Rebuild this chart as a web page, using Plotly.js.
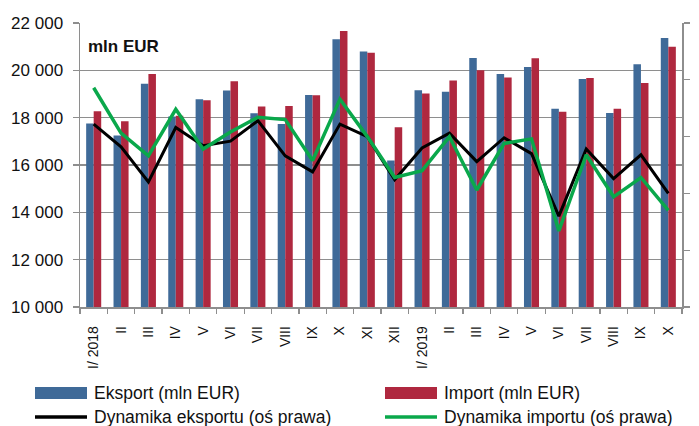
<!DOCTYPE html>
<html>
<head>
<meta charset="utf-8">
<script src="https://cdn.plot.ly/plotly-3.0.1.min.js"></script>
<style>html,body{margin:0;padding:0;background:#fff;}#chart{width:699px;height:426px;}</style>
</head>
<body>
<div id="chart"></div>
<script>
// ---- data ----
var months = ['I/ 2018','II','III','IV','V','VI','VII','VIII','IX','X','XI','XII',
              'I/ 2019','II','III','IV','V','VI','VII','VIII','IX','X'];
var exportVals = [17750,17250,19430,18050,18780,19150,18190,17730,18960,21310,20800,16190,
                  19160,19090,20520,19840,20140,18380,19630,18200,20260,21365];
var importVals = [18270,17845,19840,18080,18740,19540,18470,18495,18950,21660,20740,17590,
                  19020,19570,20000,19700,20510,18255,19680,18380,19460,21000];
// right-axis (unlabelled) dynamics, read on an assumed 90–115 scale
var exportDyn = [106.1,104.1,101.0,105.8,104.2,104.6,106.4,103.3,101.9,106.1,105.0,101.2,
                 104.0,105.3,102.8,104.9,103.5,98.0,103.9,101.3,103.4,100.0];
var importDyn = [109.3,105.3,103.3,107.4,103.9,105.4,106.7,106.5,102.9,108.3,105.0,101.4,
                 102.0,105.0,100.3,104.4,104.8,96.7,103.4,99.7,101.4,98.5];
var seriesNames = ['Eksport (mln EUR)','Import (mln EUR)','Dynamika eksportu (oś prawa)','Dynamika importu (oś prawa)'];
var unitLabel = 'mln EUR';

var idx = months.map(function(_, i){ return i; });
var BLUE = '#3F6A98', RED = '#AF283F', GREEN = '#0AA84B', BLACK = '#000000';
var GRID = '#8E8E8E';
var FONT = 'Liberation Sans, Arial, sans-serif';

var traces = [
  {type:'bar', name:seriesNames[0], x:idx, y:exportVals, marker:{color:BLUE}, showlegend:false, yaxis:'y'},
  {type:'bar', name:seriesNames[1], x:idx, y:importVals, marker:{color:RED}, showlegend:false, yaxis:'y'},
  {type:'scatter', mode:'lines', name:seriesNames[2], x:idx, y:exportDyn, line:{color:BLACK, width:3}, showlegend:false, yaxis:'y2'},
  {type:'scatter', mode:'lines', name:seriesNames[3], x:idx, y:importDyn, line:{color:GREEN, width:3.5}, showlegend:false, yaxis:'y2'}
];

// manual legend (wide swatches like the reference)
var legendPos = [
  {xs:-45, ys:-86, kind:'rect', color:BLUE},
  {xs:305, ys:-86, kind:'rect', color:RED},
  {xs:-45, ys:-110, kind:'line', color:BLACK},
  {xs:305, ys:-110, kind:'line', color:GREEN}
];
var shapes = [], annotations = [];
legendPos.forEach(function(p, i){
  if (p.kind === 'rect') {
    shapes.push({type:'rect', xref:'paper', yref:'paper', xsizemode:'pixel', ysizemode:'pixel',
      xanchor:0, yanchor:0, x0:p.xs, x1:p.xs+52, y0:p.ys-6, y1:p.ys+6,
      fillcolor:p.color, line:{width:0}});
  } else {
    shapes.push({type:'line', xref:'paper', yref:'paper', xsizemode:'pixel', ysizemode:'pixel',
      xanchor:0, yanchor:0, x0:p.xs, x1:p.xs+52, y0:p.ys, y1:p.ys,
      line:{color:p.color, width:3.5}});
  }
  annotations.push({xref:'paper', yref:'paper', x:0, y:0, xshift:p.xs+57, yshift:p.ys,
    xanchor:'left', yanchor:'middle', showarrow:false, text:seriesNames[i],
    font:{family:FONT, size:17.5, color:'#111'}});
});
annotations.push({xref:'paper', yref:'paper', x:0, y:1, xshift:6, yshift:-23,
  xanchor:'left', yanchor:'middle', showarrow:false, text:'<b>'+unitLabel+'</b>',
  font:{family:FONT, size:17, color:'#111'}});

var layout = {
  width:699, height:426,
  margin:{l:80, r:17, t:23, b:119, pad:0},
  paper_bgcolor:'#fff', plot_bgcolor:'#fff',
  separators:', ',
  barmode:'group', bargap:0.45, bargroupgap:0,
  showlegend:false,
  font:{family:FONT, color:'#111'},
  xaxis:{
    type:'linear', range:[-0.5, months.length-0.5], fixedrange:true,
    tickmode:'array', tickvals:idx, ticktext:months, tickangle:-90,
    ticks:'', showgrid:false, zeroline:false,
    showline:true, linecolor:GRID, linewidth:1.5,
    tickfont:{family:FONT, size:14, color:'#111'},
    ticklabelstandoff:12,
    minor:{tick0:-0.5, dtick:1, ticks:'outside', ticklen:5, tickcolor:GRID, tickwidth:1.3, showgrid:false}
  },
  yaxis:{
    range:[10000, 22000], dtick:2000, tickformat:',d',
    showgrid:true, gridcolor:GRID, gridwidth:1.5, zeroline:false,
    showline:true, linecolor:GRID, linewidth:1.5,
    ticks:'outside', ticklen:6, tickcolor:GRID, tickwidth:1.3,
    tickfont:{family:FONT, size:17, color:'#111'},
    ticklabelstandoff:6
  },
  yaxis2:{
    overlaying:'y', side:'right', range:[90, 115], dtick:5,
    showgrid:false, zeroline:false, showticklabels:false,
    showline:true, linecolor:GRID, linewidth:1.5,
    ticks:'outside', ticklen:6, tickcolor:GRID, tickwidth:1.3
  },
  shapes:shapes,
  annotations:annotations
};

Plotly.newPlot('chart', traces, layout, {staticPlot:true, displayModeBar:false});
</script>
</body>
</html>
